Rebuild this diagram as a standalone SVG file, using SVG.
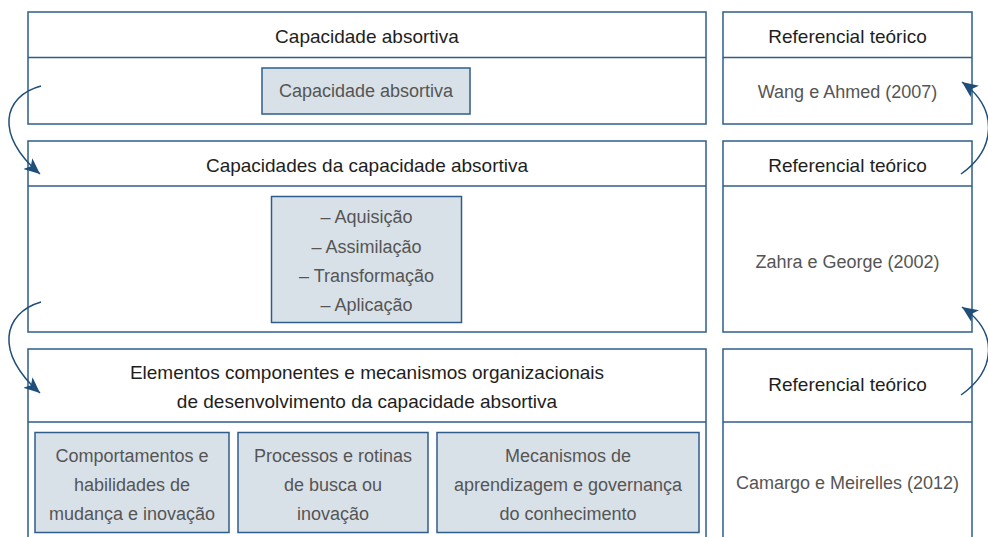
<svg xmlns="http://www.w3.org/2000/svg" width="988" height="537" viewBox="0 0 988 537">
<style>
.box{fill:#ffffff;stroke:#2e5d8c;stroke-width:1.5}
.inner{fill:#d9e1e8;stroke:#2e5d8c;stroke-width:1.5}
.div{stroke:#2e5d8c;stroke-width:1.5;fill:none}
.h{font-family:"Liberation Sans",Arial,sans-serif;font-size:19px;fill:#1e1e1e;text-anchor:middle}
.t{font-family:"Liberation Sans",Arial,sans-serif;font-size:18px;fill:#555555;text-anchor:middle}
.arr{fill:none;stroke:#1f4e79;stroke-width:1.5}
</style>
<defs>
<marker id="ah" markerUnits="userSpaceOnUse" markerWidth="18" markerHeight="14" refX="16" refY="7" orient="auto">
<path d="M0,0 L16,7 L0,14 L4,7 Z" fill="#1f4e79"/>
</marker>
</defs>
<g id="row1-left">
<rect class="box" x="28" y="12" width="678" height="112"/>
<line class="div" x1="28" y1="57.5" x2="706" y2="57.5"/>
<text class="h" x="367" y="43">Capacidade absortiva</text>
<rect class="inner" x="262" y="68" width="208" height="46"/>
<text class="t" x="366" y="97">Capacidade absortiva</text>
</g>
<g id="row1-right">
<rect class="box" x="723" y="12" width="249" height="112"/>
<line class="div" x1="723" y1="57.5" x2="972" y2="57.5"/>
<text class="h" x="847.5" y="43">Referencial teórico</text>
<text class="t" x="847.5" y="98">Wang e Ahmed (2007)</text>
</g>
<g id="row2-left">
<rect class="box" x="28" y="141" width="678" height="191"/>
<line class="div" x1="28" y1="186" x2="706" y2="186"/>
<text class="h" x="367" y="172">Capacidades da capacidade absortiva</text>
<rect class="inner" x="271.5" y="196.5" width="190" height="126"/>
<text class="t" x="366.5" y="223">– Aquisição</text>
<text class="t" x="366.5" y="252.5">– Assimilação</text>
<text class="t" x="366.5" y="282">– Transformação</text>
<text class="t" x="366.5" y="311">– Aplicação</text>
</g>
<g id="row2-right">
<rect class="box" x="723" y="141" width="249" height="191"/>
<line class="div" x1="723" y1="186" x2="972" y2="186"/>
<text class="h" x="847.5" y="172">Referencial teórico</text>
<text class="t" x="847.5" y="268">Zahra e George (2002)</text>
</g>
<g id="row3-left">
<rect class="box" x="28" y="349" width="678" height="200"/>
<line class="div" x1="28" y1="422" x2="706" y2="422"/>
<text class="h" x="367" y="379">Elementos componentes e mecanismos organizacionais</text>
<text class="h" x="367" y="408">de desenvolvimento da capacidade absortiva</text>
<rect class="inner" x="35" y="432.5" width="194" height="100"/>
<text class="t" x="132" y="461.5">Comportamentos e</text>
<text class="t" x="132" y="490.5">habilidades de</text>
<text class="t" x="132" y="520">mudança e inovação</text>
<rect class="inner" x="238" y="432.5" width="190" height="100"/>
<text class="t" x="333" y="461.5">Processos e rotinas</text>
<text class="t" x="333" y="490.5">de busca ou</text>
<text class="t" x="333" y="520">inovação</text>
<rect class="inner" x="437" y="432.5" width="262" height="100"/>
<text class="t" x="568" y="461.5">Mecanismos de</text>
<text class="t" x="568" y="490.5">aprendizagem e governança</text>
<text class="t" x="568" y="520">do conhecimento</text>
</g>
<g id="row3-right">
<rect class="box" x="723" y="349" width="249" height="200"/>
<line class="div" x1="723" y1="422" x2="972" y2="422"/>
<text class="h" x="847.5" y="391">Referencial teórico</text>
<text class="t" x="847.5" y="489">Camargo e Meirelles (2012)</text>
</g>
<g id="connectors">
<path class="arr" marker-end="url(#ah)" d="M41,86 C3,96 -6,135 40,174"/>
<path class="arr" marker-end="url(#ah)" d="M41,302 C3,313 -6,353 40,393"/>
<path class="arr" marker-end="url(#ah)" d="M961,174 C995,150 1000,110 962,82"/>
<path class="arr" marker-end="url(#ah)" d="M961,395 C995,371 1000,333 962,307"/>
</g>
</svg>
